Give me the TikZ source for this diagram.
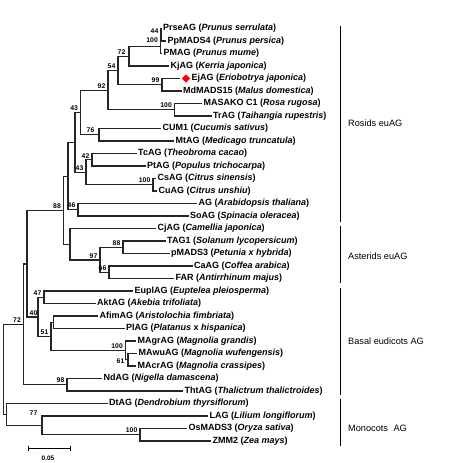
\documentclass[tikz,border=0pt]{standalone}
\usepackage{fontspec}
\setmainfont{Liberation Sans}
\usetikzlibrary{shapes.geometric}
\begin{document}
\begin{tikzpicture}[x=1pt,y=-1pt,
  br/.style={line width=1.1pt, draw=black!85},
  grp/.style={line width=1.3pt, draw=black},
  tx/.style={anchor=west, inner sep=0pt, xshift=1.5pt, font=\fontsize{9}{11}\selectfont\bfseries},
  gl/.style={anchor=west, inner sep=0pt, font=\fontsize{9.2}{11}\selectfont},
  bs/.style={anchor=south east, inner sep=0pt, xshift=-2.5pt, yshift=1.5pt, font=\fontsize{6.8}{7}\selectfont\bfseries},
  sbl/.style={inner sep=0pt, font=\fontsize{6.5}{7}\selectfont\bfseries}]
\useasboundingbox (0,0) rectangle (452,463);
% tips
\coordinate (t1) at (161.5,28.5);
\coordinate (t2) at (166,41);
\coordinate (t3) at (162,53.5);
\coordinate (t4) at (169,66);
\coordinate (t5) at (179.5,78.5);
\coordinate (t6) at (181.5,91);
\coordinate (t7) at (202,103.5);
\coordinate (t8) at (211.5,116);
\coordinate (t9) at (161,128.5);
\coordinate (t10) at (174,141);
\coordinate (t11) at (136.5,153.5);
\coordinate (t12) at (145.5,166);
\coordinate (t13) at (156,178.5);
\coordinate (t14) at (157,191);
\coordinate (t15) at (197,203.5);
\coordinate (t16) at (188.5,216);
\coordinate (t17) at (156,228.5);
\coordinate (t18) at (165.5,241);
\coordinate (t19) at (169.5,253.5);
\coordinate (t20) at (192.5,266);
\coordinate (t21) at (174,278.5);
\coordinate (t22) at (133,291);
\coordinate (t23) at (95.5,303.5);
\coordinate (t24) at (98,316);
\coordinate (t25) at (124.5,328.5);
\coordinate (t26) at (136,341);
\coordinate (t27) at (137,353.5);
\coordinate (t28) at (136,366);
\coordinate (t29) at (102,378.5);
\coordinate (t30) at (183,391);
\coordinate (t31) at (107.5,403.5);
\coordinate (t32) at (208,416);
\coordinate (t33) at (187,428.5);
\coordinate (t34) at (211,441);
% internal nodes
\coordinate (n44) at (161,34.75);
\coordinate (n100p) at (160.5,46.5);
\coordinate (n72) at (129,56.3);
\coordinate (n99) at (162,84.75);
\coordinate (n54) at (118,70.5);
\coordinate (n100m) at (174.5,109.75);
\coordinate (n92) at (108,90.3);
\coordinate (n76) at (99,134.75);
\coordinate (n43a) at (80.7,112.5);
\coordinate (n42) at (92,159.75);
\coordinate (n100c) at (153,184.75);
\coordinate (n43b) at (86,172.3);
\coordinate (nX) at (75,142.5);
\coordinate (n46) at (78,209.75);
\coordinate (nY) at (68,176.3);
\coordinate (n88t) at (123,247.25);
\coordinate (n66) at (109,272.25);
\coordinate (n97) at (100,260);
\coordinate (nA) at (70,244.3);
\coordinate (n88) at (63.5,210.5);
\coordinate (n47) at (44,297.25);
\coordinate (nAP) at (53.3,322.25);
\coordinate (n61) at (128,359.75);
\coordinate (n100g) at (125.5,350.4);
\coordinate (n51) at (51,336.5);
\coordinate (n40) at (38,317);
\coordinate (nZ) at (27,264);
\coordinate (n98) at (67,384.75);
\coordinate (n72b) at (23.5,324.4);
\coordinate (n100o) at (140,434.75);
\coordinate (n77) at (42,425.4);
\coordinate (nM) at (6.7,414.5);
\coordinate (root) at (3.3,369.5);
% branches
\draw[br] (n44) |- (t1); \draw[br] (n44) |- (t2);
\draw[br] (n100p) |- (n44); \draw[br] (n100p) |- (t3);
\draw[br] (n72) |- (n100p); \draw[br] (n72) |- (t4);
\draw[br] (n99) |- (t5); \draw[br] (n99) |- (t6);
\draw[br] (n54) |- (n72); \draw[br] (n54) |- (n99);
\draw[br] (n100m) |- (t7); \draw[br] (n100m) |- (t8);
\draw[br] (n92) |- (n54); \draw[br] (n92) |- (n100m);
\draw[br] (n76) |- (t9); \draw[br] (n76) |- (t10);
\draw[br] (n43a) |- (n92); \draw[br] (n43a) |- (n76);
\draw[br] (n42) |- (t11); \draw[br] (n42) |- (t12);
\draw[br] (n100c) |- (t13); \draw[br] (n100c) |- (t14);
\draw[br] (n43b) |- (n42); \draw[br] (n43b) |- (n100c);
\draw[br] (nX) |- (n43a); \draw[br] (nX) |- (n43b);
\draw[br] (n46) |- (t15); \draw[br] (n46) |- (t16);
\draw[br] (nY) |- (nX); \draw[br] (nY) |- (n46);
\draw[br] (n88t) |- (t18); \draw[br] (n88t) |- (t19);
\draw[br] (n66) |- (t20); \draw[br] (n66) |- (t21);
\draw[br] (n97) |- (n88t); \draw[br] (n97) |- (n66);
\draw[br] (nA) |- (t17); \draw[br] (nA) |- (n97);
\draw[br] (n88) |- (nY); \draw[br] (n88) |- (nA);
\draw[br] (n47) |- (t22); \draw[br] (n47) |- (t23);
\draw[br] (nAP) |- (t24); \draw[br] (nAP) |- (t25);
\draw[br] (n61) |- (t27); \draw[br] (n61) |- (t28);
\draw[br] (n100g) |- (t26); \draw[br] (n100g) |- (n61);
\draw[br] (n51) |- (nAP); \draw[br] (n51) |- (n100g);
\draw[br] (n40) |- (n47); \draw[br] (n40) |- (n51);
\draw[br] (nZ) |- (n88); \draw[br] (nZ) |- (n40);
\draw[br] (n98) |- (t29); \draw[br] (n98) |- (t30);
\draw[br] (n72b) |- (nZ); \draw[br] (n72b) |- (n98);
\draw[br] (n100o) |- (t33); \draw[br] (n100o) |- (t34);
\draw[br] (n77) |- (t32); \draw[br] (n77) |- (n100o);
\draw[br] (nM) |- (t31); \draw[br] (nM) |- (n77);
\draw[br] (root) |- (n72b); \draw[br] (root) |- (nM);
% bootstrap values
\node[bs] (b44) at (n44) {44};
\node[bs, yshift=2.5pt] (b100p) at (n100p) {100};
\node[bs, xshift=-1pt] (b72) at (n72) {72};
\node[bs] (b99) at (n99) {99};
\node[bs] (b54) at (n54) {54};
\node[bs] (b100m) at (n100m) {100};
\node[bs] (b92) at (n92) {92};
\node[bs, xshift=-2pt] (b76) at (n76) {76};
\node[bs] (b43a) at (n43a) {43};
\node[bs] (b42) at (n42) {42};
\node[bs] (b100c) at (n100c) {100};
\node[bs] (b43b) at (n43b) {43};
\node[bs] (b46) at (n46) {46};
\node[bs] (b88t) at (n88t) {88};
\node[bs] (b66) at (n66) {66};
\node[bs] (b97) at (n97) {97};
\node[bs] (b88) at (n88) {88};
\node[bs] (b47) at (n47) {47};
\node[bs, anchor=east, xshift=-1pt, yshift=-3pt] (b61) at (n61) {61};
\node[bs] (b100g) at (n100g) {100};
\node[bs] (b51) at (n51) {51};
\node[bs, xshift=2pt] (b40) at (n40) {40};
\node[bs] (b98) at (n98) {98};
\node[bs] (b72b) at (n72b) {72};
\node[bs, xshift=-2pt, yshift=8.5pt] (b77) at (n77) {77};
\node[bs] (b100o) at (n100o) {100};
% taxon labels
\node[tx] (l1) at (t1) {PrseAG (\textit{Prunus serrulata})};
\node[tx] (l2) at (t2) {PpMADS4 (\textit{Prunus persica})};
\node[tx] (l3) at (t3) {PMAG (\textit{Prunus mume})};
\node[tx] (l4) at (t4) {KjAG (\textit{Kerria japonica})};
\node[diamond, fill=red, inner sep=0pt, minimum width=8.5pt, minimum height=8.5pt] (dia) at (186,78.5) {};
\node[tx, xshift=10.5pt] (l5) at (t5) {EjAG (\textit{Eriobotrya japonica})};
\node[tx] (l6) at (t6) {MdMADS15 (\textit{Malus domestica})};
\node[tx] (l7) at (t7) {MASAKO C1 (\textit{Rosa rugosa})};
\node[tx] (l8) at (t8) {TrAG (\textit{Taihangia rupestris})};
\node[tx] (l9) at (t9) {CUM1 (\textit{Cucumis sativus})};
\node[tx] (l10) at (t10) {MtAG (\textit{Medicago truncatula})};
\node[tx] (l11) at (t11) {TcAG (\textit{Theobroma cacao})};
\node[tx] (l12) at (t12) {PtAG (\textit{Populus trichocarpa})};
\node[tx] (l13) at (t13) {CsAG (\textit{Citrus sinensis})};
\node[tx] (l14) at (t14) {CuAG (\textit{Citrus unshiu})};
\node[tx] (l15) at (t15) {AG (\textit{Arabidopsis thaliana})};
\node[tx] (l16) at (t16) {SoAG (\textit{Spinacia oleracea})};
\node[tx] (l17) at (t17) {CjAG (\textit{Camellia japonica})};
\node[tx] (l18) at (t18) {TAG1 (\textit{Solanum lycopersicum})};
\node[tx] (l19) at (t19) {pMADS3 (\textit{Petunia x hybrida})};
\node[tx] (l20) at (t20) {CaAG (\textit{Coffea arabica})};
\node[tx] (l21) at (t21) {FAR (\textit{Antirrhinum majus})};
\node[tx] (l22) at (t22) {EuplAG (\textit{Euptelea pleiosperma})};
\node[tx] (l23) at (t23) {AktAG (\textit{Akebia trifoliata})};
\node[tx] (l24) at (t24) {AfimAG (\textit{Aristolochia fimbriata})};
\node[tx] (l25) at (t25) {PlAG (\textit{Platanus} x \textit{hispanica})};
\node[tx] (l26) at (t26) {MAgrAG (\textit{Magnolia grandis})};
\node[tx] (l27) at (t27) {MAwuAG (\textit{Magnolia wufengensis})};
\node[tx] (l28) at (t28) {MAcrAG (\textit{Magnolia crassipes})};
\node[tx] (l29) at (t29) {NdAG (\textit{Nigella damascena})};
\node[tx] (l30) at (t30) {ThtAG (\textit{Thalictrum thalictroides})};
\node[tx] (l31) at (t31) {DtAG (\textit{Dendrobium thyrsiflorum})};
\node[tx] (l32) at (t32) {LAG (\textit{Lilium longiflorum})};
\node[tx] (l33) at (t33) {OsMADS3 (\textit{Oryza sativa})};
\node[tx] (l34) at (t34) {ZMM2 (\textit{Zea mays})};
% group bars
\coordinate (g1a) at (340.5,26); \coordinate (g1b) at (340.5,222);
\coordinate (g2a) at (340.5,225.5); \coordinate (g2b) at (340.5,283);
\coordinate (g3a) at (340.5,288); \coordinate (g3b) at (340.5,394.5);
\coordinate (g4a) at (340.5,398.5); \coordinate (g4b) at (340.5,445.5);
\draw[grp] (g1a) -- (g1b);
\draw[grp] (g2a) -- (g2b);
\draw[grp] (g3a) -- (g3b);
\draw[grp] (g4a) -- (g4b);
\node[gl] (G1) at (348,123) {Rosids euAG};
\node[gl] (G2) at (348,256) {Asterids euAG};
\node[gl] (G3) at (348,341) {Basal eudicots AG};
\node[gl] (G4) at (348,428) {Monocots\hspace{0.6em}AG};
% scale bar
\coordinate (s1) at (28,448); \coordinate (s2) at (70,448);
\draw[line width=0.8pt] (s1) -- (s2);
\draw[line width=0.8pt] ([yshift=2.5pt]s1) -- ([yshift=-2.5pt]s1);
\draw[line width=0.8pt] ([yshift=2.5pt]s2) -- ([yshift=-2.5pt]s2);
\node[sbl] (sl) at (48,458.5) {0.05};
\end{tikzpicture}
\end{document}
